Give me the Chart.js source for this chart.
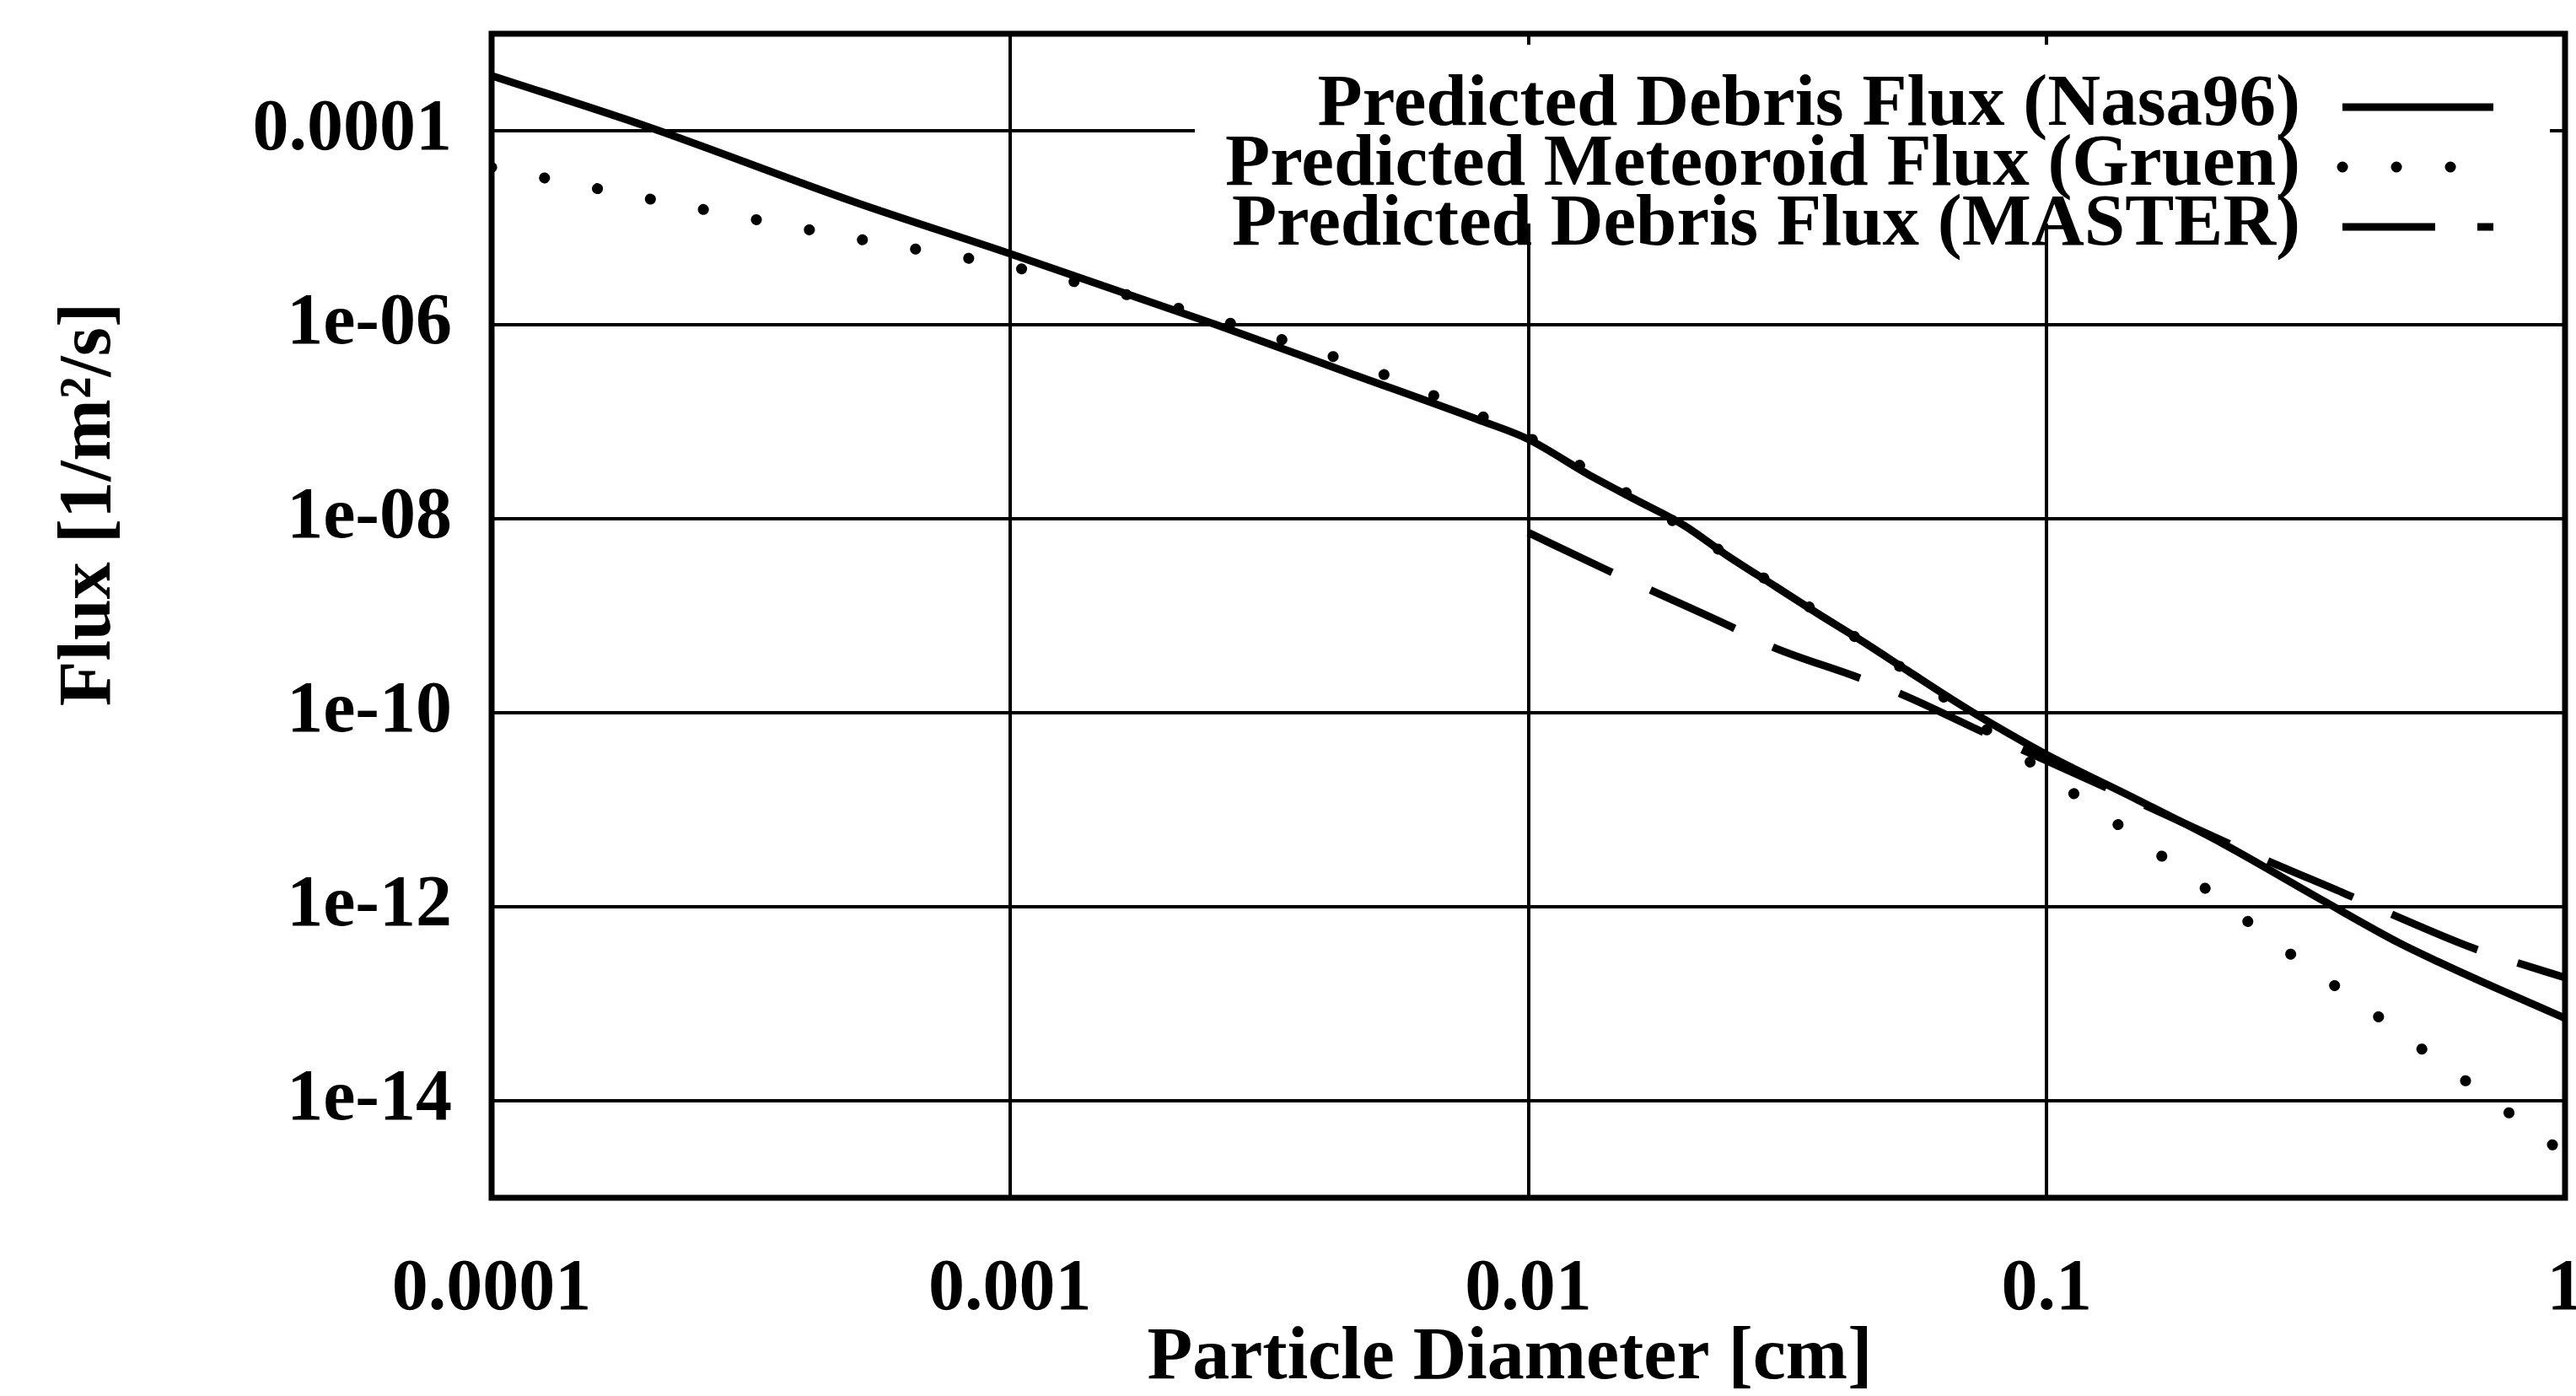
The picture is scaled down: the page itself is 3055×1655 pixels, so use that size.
<!DOCTYPE html>
<html>
<head>
<meta charset="utf-8">
<title>Predicted debris and meteoroid flux</title>
<script src="https://cdn.jsdelivr.net/npm/chart.js@4"></script>
<style>
  html, body { margin: 0; padding: 0; background: #fff; }
  #wrap { width: 3055px; height: 1655px; }
</style>
</head>
<body>
<div id="wrap"><canvas id="chart" width="3055" height="1655"></canvas></div>
<script>
const xTicks = [1e-4, 1e-3, 1e-2, 1e-1, 1];
const xTickLabels = ['0.0001', '0.001', '0.01', '0.1', '1'];
const yTicks = [1e-14, 1e-12, 1e-10, 1e-8, 1e-6, 1e-4];
const yTickLabels = ['1e-14', '1e-12', '1e-10', '1e-08', '1e-06', '0.0001'];

const seriesLabels = [
  'Predicted Debris Flux (Nasa96)',
  'Predicted Meteoroid Flux (Gruen)',
  'Predicted Debris Flux (MASTER)',
];

// particle diameter [cm] and flux [1/m^2/s]
const nasaDiameter = [1e-4, 2e-4, 5e-4, 1e-3, 2.5e-3, 4.5e-3, 8e-3, 1e-2, 1.3e-2, 1.6e-2, 2e-2, 2.4e-2,
  3e-2, 3.6e-2, 4.4e-2, 5.4e-2, 6.6e-2, 7.6e-2, 1e-1, 1.5e-1, 2.2e-1, 3.4e-1, 4.8e-1, 5.7e-1, 7.3e-1, 1];
const nasaFlux = [3.7e-4, 1.1e-4, 1.85e-5, 5.4e-6, 1.0e-6, 3.2e-7, 1.05e-7, 6.6e-8, 2.9e-8, 1.6e-8, 8.5e-9, 4.3e-9,
  2.0e-9, 1.07e-9, 5.5e-10, 2.7e-10, 1.35e-10, 8.5e-11, 3.7e-11, 1.26e-11, 4.4e-12, 1.17e-12, 4.2e-13, 2.7e-13, 1.48e-13, 7.1e-14];

const gruenDiameter = [1e-4, 2e-4, 5e-4, 1e-3, 1.4e-3, 2.25e-3, 3.5e-3, 5.6e-3, 7e-3, 1e-2, 1.6e-2, 2.5e-2, 4e-2,
  6.3e-2, 7.8e-2, 1.14e-1, 1.38e-1, 1.67e-1, 2e-1, 2.4e-1, 2.9e-1, 3.5e-1, 4.3e-1, 5.15e-1, 6.3e-1, 7.6e-1, 9.1e-1, 1];
const gruenFlux = [4.2e-5, 2.0e-5, 7.8e-6, 4.0e-6, 2.6e-6, 1.35e-6, 6.5e-7, 2.7e-7, 1.6e-7, 6.9e-8, 1.66e-8, 3.8e-9, 7.6e-10,
  1.48e-10, 6.2e-11, 1.41e-11, 6.9e-12, 3.3e-12, 1.62e-12, 7.6e-13, 3.5e-13, 1.7e-13, 7.8e-14, 3.8e-14, 1.74e-14, 8.3e-15, 4.1e-15, 2.8e-15];

const masterDiameter = [1e-2, 1.42e-2, 1.73e-2, 2.45e-2, 2.95e-2, 4.3e-2, 5.25e-2, 7.8e-2, 1e-1, 1.5e-1,
  2.66e-1, 3.78e-1, 4.6e-1, 6.6e-1, 8e-1, 1];
const masterFlux = [7.2e-9, 2.95e-9, 1.82e-9, 7.8e-10, 4.8e-10, 2.34e-10, 1.55e-10, 5.8e-11, 3.2e-11, 1.2e-11,
  3.0e-12, 1.35e-12, 8.5e-13, 3.8e-13, 2.7e-13, 1.86e-13];

const FONT = "'Liberation Serif', 'Times New Roman', serif";
const pairs = (xs, ys) => xs.map((x, i) => ({ x, y: ys[i] }));
const labelFor = (ticks, labels) => value => {
  const i = ticks.findIndex(t => Math.abs(Math.log10(t / value)) < 1e-6);
  return i < 0 ? '' : labels[i];
};

// gnuplot-like frame and key drawn inside the plot area
const frameAndKey = {
  id: 'frameAndKey',
  beforeDatasetsDraw(chart) {
    const { ctx, chartArea: a } = chart;
    ctx.save();
    ctx.fillStyle = '#fff';
    ctx.fillRect(a.right - 1625, a.top + 13, 1607, 212);
    ctx.restore();
  },
  afterDatasetsDraw(chart) {
    const { ctx, chartArea: a } = chart;
    ctx.save();
    ctx.strokeStyle = '#000';
    ctx.lineWidth = 7;
    ctx.strokeRect(a.left, a.top, a.right - a.left, a.bottom - a.top);
    ctx.font = `bold 87px ${FONT}`;
    ctx.textAlign = 'right';
    ctx.fillStyle = '#000';
    chart.data.datasets.forEach((ds, i) => {
      const base = a.top + 108 + i * 71;
      ctx.fillText(ds.label, a.right - 314, base);
      ctx.beginPath();
      ctx.lineWidth = ds.borderWidth;
      ctx.lineCap = ds.borderCapStyle || 'butt';
      ctx.setLineDash(ds.borderDash || []);
      ctx.moveTo(a.right - 264, base - 21);
      ctx.lineTo(a.right - 85, base - 21);
      ctx.stroke();
    });
    ctx.restore();
  },
};

window.onload = () => {
  new Chart(document.getElementById('chart'), {
    type: 'line',
    data: {
      datasets: [
        {
          label: seriesLabels[0],
          data: pairs(nasaDiameter, nasaFlux),
          borderColor: '#000',
          borderWidth: 9,
          borderCapStyle: 'butt',
        },
        {
          label: seriesLabels[1],
          data: pairs(gruenDiameter, gruenFlux),
          borderColor: '#000',
          borderWidth: 13,
          borderCapStyle: 'round',
          borderDash: [0.1, 63.9],
        },
        {
          label: seriesLabels[2],
          data: pairs(masterDiameter, masterFlux),
          borderColor: '#000',
          borderWidth: 9,
          borderCapStyle: 'butt',
          borderDash: [110, 50],
        },
      ],
    },
    options: {
      responsive: false,
      animation: false,
      devicePixelRatio: 1,
      layout: { padding: { left: 0, right: 13, top: 40, bottom: 0 } },
      elements: {
        point: { radius: 0 },
        line: { cubicInterpolationMode: 'monotone', borderJoinStyle: 'round' },
      },
      plugins: {
        legend: { display: false },
        tooltip: { enabled: false },
      },
      scales: {
        x: {
          type: 'logarithmic',
          min: 1e-4,
          max: 1,
          afterBuildTicks: s => {
            s.ticks = xTicks.map(value => ({ value }));
          },
          afterFit: s => {
            s.height = 235;
            s.paddingLeft = 0;
            s.paddingRight = 0;
          },
          grid: { color: '#000', lineWidth: 4, drawTicks: false },
          border: { display: false },
          ticks: {
            callback: labelFor(xTicks, xTickLabels),
            autoSkip: false,
            maxRotation: 0,
            padding: 58,
            color: '#000',
            font: { family: FONT, size: 86, weight: 'bold' },
          },
          title: {
            display: true,
            text: 'Particle Diameter [cm]\u2002',
            color: '#000',
            padding: 0,
            font: { family: FONT, size: 88, weight: 'bold', lineHeight: 1 },
          },
        },
        y: {
          type: 'logarithmic',
          min: 1e-15,
          max: 1e-3,
          afterBuildTicks: s => {
            s.ticks = yTicks.map(value => ({ value }));
          },
          afterFit: s => {
            s.width = 583;
            s.paddingTop = 0;
            s.paddingBottom = 0;
          },
          grid: { color: '#000', lineWidth: 4, drawTicks: false },
          border: { display: false },
          ticks: {
            callback: labelFor(yTicks, yTickLabels),
            autoSkip: false,
            padding: 47,
            color: '#000',
            font: { family: FONT, size: 86, weight: 'bold' },
          },
          title: {
            display: true,
            text: '\u2002'.repeat(6) + 'Flux [1/m\u00b2/s]',
            color: '#000',
            padding: { top: 63, bottom: 0 },
            font: { family: FONT, size: 88, weight: 'bold', lineHeight: 1 },
          },
        },
      },
    },
    plugins: [frameAndKey],
  });
};
</script>
</body>
</html>
